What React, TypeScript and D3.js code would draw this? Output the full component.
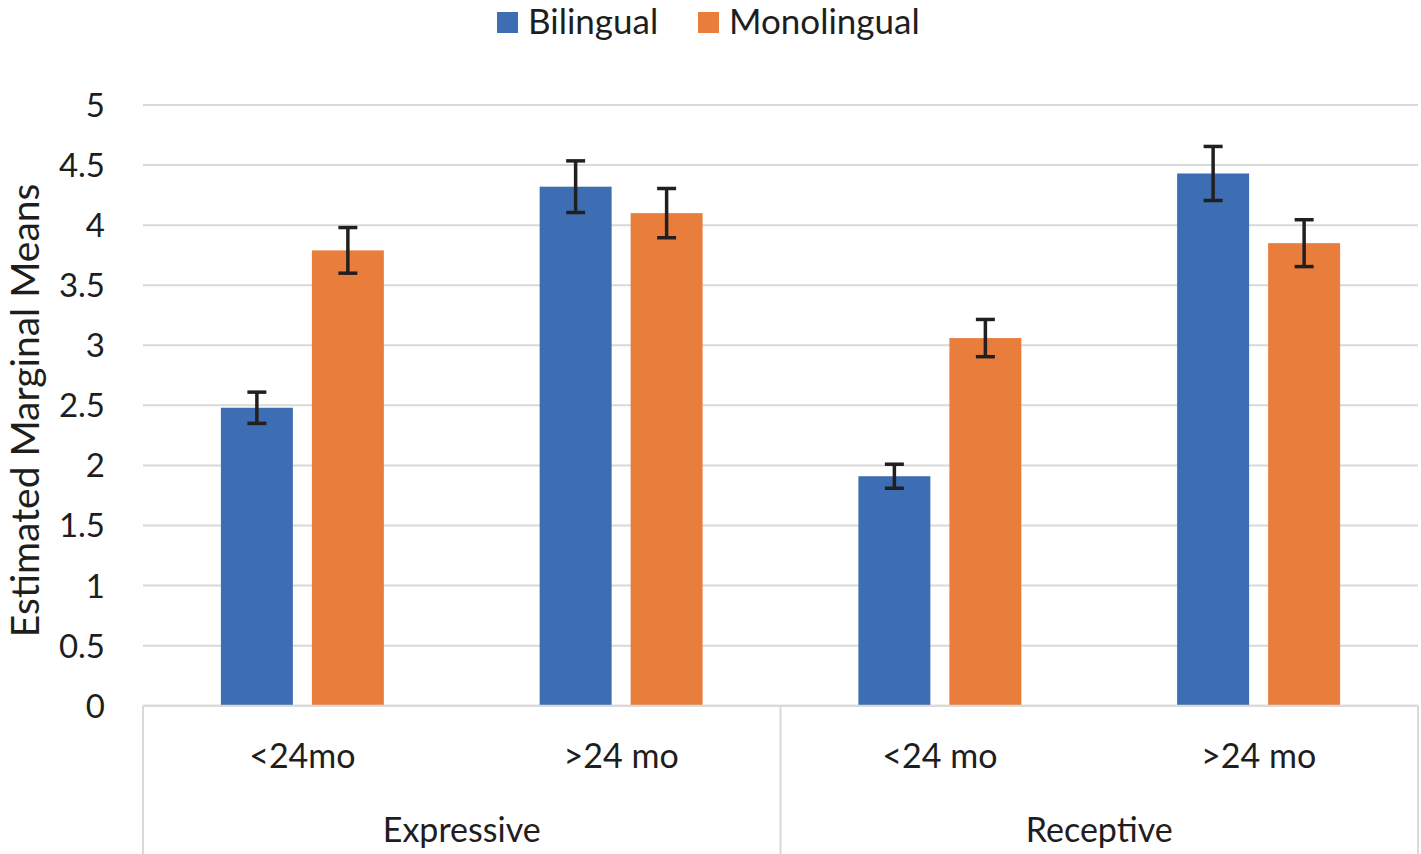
import * as d3 from 'd3';

const categories = ['<24mo', '>24 mo', '<24 mo', '>24 mo'];
const categoryGroups = ['Expressive', 'Expressive', 'Receptive', 'Receptive'];
const groups = ['Expressive', 'Receptive'];
const seriesNames = ['Bilingual', 'Monolingual'];
const bilingualMeans = [2.48, 4.32, 1.91, 4.43];
const monolingualMeans = [3.79, 4.1, 3.06, 3.85];
const bilingualErrors = [0.13, 0.215, 0.1, 0.225];
const monolingualErrors = [0.19, 0.205, 0.155, 0.195];
const yTicks = [0, 0.5, 1, 1.5, 2, 2.5, 3, 3.5, 4, 4.5, 5];

const colors = ['#3d6db2', '#e97e3c'];
const gridColor = '#d9d9d9';
const textColor = '#1e1e1e';
const font = 'Lato, "Open Sans", sans-serif';

const width = 1421;
const height = 854;
const plot = { left: 143, right: 1418, top: 105, bottom: 705.7 };

const App = () => {
  const x0 = d3.scaleBand<number>()
    .domain(d3.range(categories.length))
    .range([plot.left, plot.right]);

  const x1 = d3.scaleBand<string>()
    .domain(seriesNames)
    .range([0, x0.bandwidth()])
    .paddingInner(0.209)
    .paddingOuter(0.856);

  const y = d3.scaleLinear()
    .domain([0, 5])
    .range([plot.bottom, plot.top]);

  const series = [
    { name: seriesNames[0], means: bilingualMeans, errors: bilingualErrors, color: colors[0] },
    { name: seriesNames[1], means: monolingualMeans, errors: monolingualErrors, color: colors[1] },
  ];

  // group divider positions: left edge of each group + right edge
  const groupEdges = groups.map(g => x0(categoryGroups.indexOf(g)) as number);
  groupEdges.push(plot.right);

  const capHalf = 9.5;

  return (
    <svg
      width={width}
      height={height}
      style={{ position: 'absolute', left: 0, top: 0, background: '#fff' }}
      fontFamily={font}
    >
      {/* gridlines */}
      {yTicks.map(t => (
        <line key={t} x1={plot.left} x2={plot.right} y1={y(t)} y2={y(t)}
          stroke={gridColor} strokeWidth={2} />
      ))}

      {/* y tick labels */}
      {yTicks.map(t => (
        <text key={'l' + t} x={105} y={y(t) + 12} textAnchor="end"
          fontSize={33} fill={textColor}>{t}</text>
      ))}

      {/* y title */}
      <text transform={`translate(39,${(plot.top + plot.bottom) / 2 + 5}) rotate(-90)`}
        textAnchor="middle" fontSize={39} fill={textColor}>
        Estimated Marginal Means
      </text>

      {/* bars */}
      {series.map(s => (
        <g key={s.name}>
          {s.means.map((v, i) => (
            <rect key={i}
              x={(x0(i) as number) + (x1(s.name) as number)}
              y={y(v)}
              width={x1.bandwidth()}
              height={y(0) - y(v)}
              fill={s.color} />
          ))}
        </g>
      ))}

      {/* error bars */}
      {series.map(s => (
        <g key={'e' + s.name} stroke="#231f20" strokeWidth={3.5}>
          {s.means.map((v, i) => {
            const cx = (x0(i) as number) + (x1(s.name) as number) + x1.bandwidth() / 2;
            const hi = y(v + s.errors[i]);
            const lo = y(v - s.errors[i]);
            return (
              <g key={i}>
                <line x1={cx} x2={cx} y1={hi} y2={lo} />
                <line x1={cx - capHalf} x2={cx + capHalf} y1={hi} y2={hi} />
                <line x1={cx - capHalf} x2={cx + capHalf} y1={lo} y2={lo} />
              </g>
            );
          })}
        </g>
      ))}

      {/* category axis */}
      <line x1={plot.left} x2={plot.right} y1={y(0)} y2={y(0)} stroke={gridColor} strokeWidth={2} />
      {groupEdges.map((gx, i) => (
        <line key={'d' + i} x1={gx} x2={gx} y1={y(0)} y2={height} stroke={gridColor} strokeWidth={2} />
      ))}
      {categories.map((c, i) => (
        <text key={'c' + i} x={(x0(i) as number) + x0.bandwidth() / 2} y={768}
          textAnchor="middle" fontSize={34} fill={textColor}>{c}</text>
      ))}
      {groups.map((g, gi) => (
        <text key={'g' + g} x={(groupEdges[gi] + groupEdges[gi + 1]) / 2} y={842}
          textAnchor="middle" fontSize={34} fill={textColor}>{g}</text>
      ))}

      {/* legend */}
      <g>
        <rect x={497} y={12} width={21} height={21} fill={colors[0]} />
        <text x={528} y={34} fontSize={35} fill={textColor}>{seriesNames[0]}</text>
        <rect x={698} y={12} width={21} height={21} fill={colors[1]} />
        <text x={729} y={34} fontSize={35} fill={textColor}>{seriesNames[1]}</text>
      </g>
    </svg>
  );
};

export default App;
